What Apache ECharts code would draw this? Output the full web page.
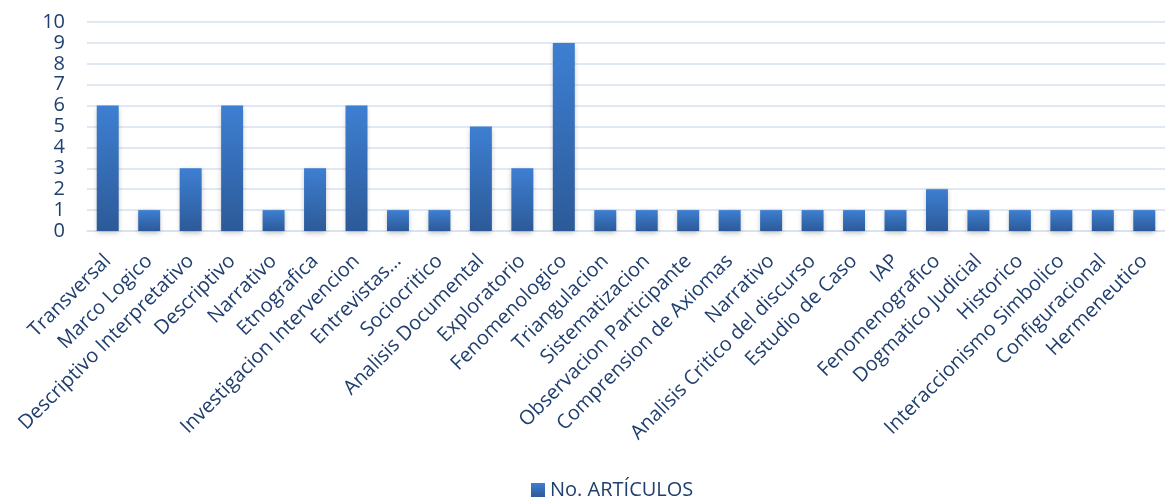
<!DOCTYPE html>
<html><head><meta charset="utf-8">
<script src="https://cdn.jsdelivr.net/npm/echarts@6/dist/echarts.min.js"></script>
<style>html,body{margin:0;padding:0;background:#fff}#c{width:1165px;height:502px}</style>
</head><body><div id="c"></div>
<script>
const categories = ["Transversal","Marco Logico","Descriptivo Interpretativo","Descriptivo","Narrativo","Etnografica","Investigacion Intervencion","Entrevistas…","Sociocritico","Analisis Documental","Exploratorio","Fenomenologico","Triangulacion","Sistematizacion","Observacion Participante","Comprension de Axiomas","Narrativo","Analisis Critico del discurso","Estudio de Caso","IAP","Fenomenografico","Dogmatico Judicial","Historico","Interaccionismo Simbolico","Configuracional","Hermeneutico"];
const articulos = [6,1,3,6,1,3,6,1,1,5,3,9,1,1,1,1,1,1,1,1,2,1,1,1,1,1];
const seriesName = "No. ARTÍCULOS";
const yTicks = {min:0, max:10, interval:1};

const chart = echarts.init(document.getElementById('c'));
const txt = '#203f6f';
const font = '"Open Sans", sans-serif';
chart.setOption({
  animation:false,
  textStyle:{fontFamily:font},
  grid:{left:87,right:0,top:22,bottom:271,containLabel:false},
  legend:{bottom:-3,left:526,itemWidth:14,itemHeight:14,icon:'rect',itemGap:6,
    textStyle:{color:txt,fontSize:20,fontFamily:font},data:[seriesName]},
  xAxis:{type:'category',data:categories,
    axisLine:{show:true,lineStyle:{color:'#d6e1ef',width:1.5}},axisTick:{show:false},
    axisLabel:{rotate:45,interval:0,color:txt,fontSize:20,margin:27,fontFamily:font}},
  yAxis:{type:'value',min:yTicks.min,max:yTicks.max,interval:yTicks.interval,
    axisLine:{show:false},axisTick:{show:false},
    splitLine:{lineStyle:{color:'#d6e1ef',width:1.5}},
    axisLabel:{color:txt,fontSize:20,margin:22,fontFamily:font}},
  series:[{name:seriesName,type:'bar',data:articulos,barWidth:'53%',
    itemStyle:{color:new echarts.graphic.LinearGradient(0,0,0,1,[{offset:0,color:'#3e7fd2'},{offset:1,color:'#2c5a98'}]),
      shadowColor:'rgba(0,0,0,0.25)',shadowBlur:5,shadowOffsetY:2}}]
});
</script></body></html>
